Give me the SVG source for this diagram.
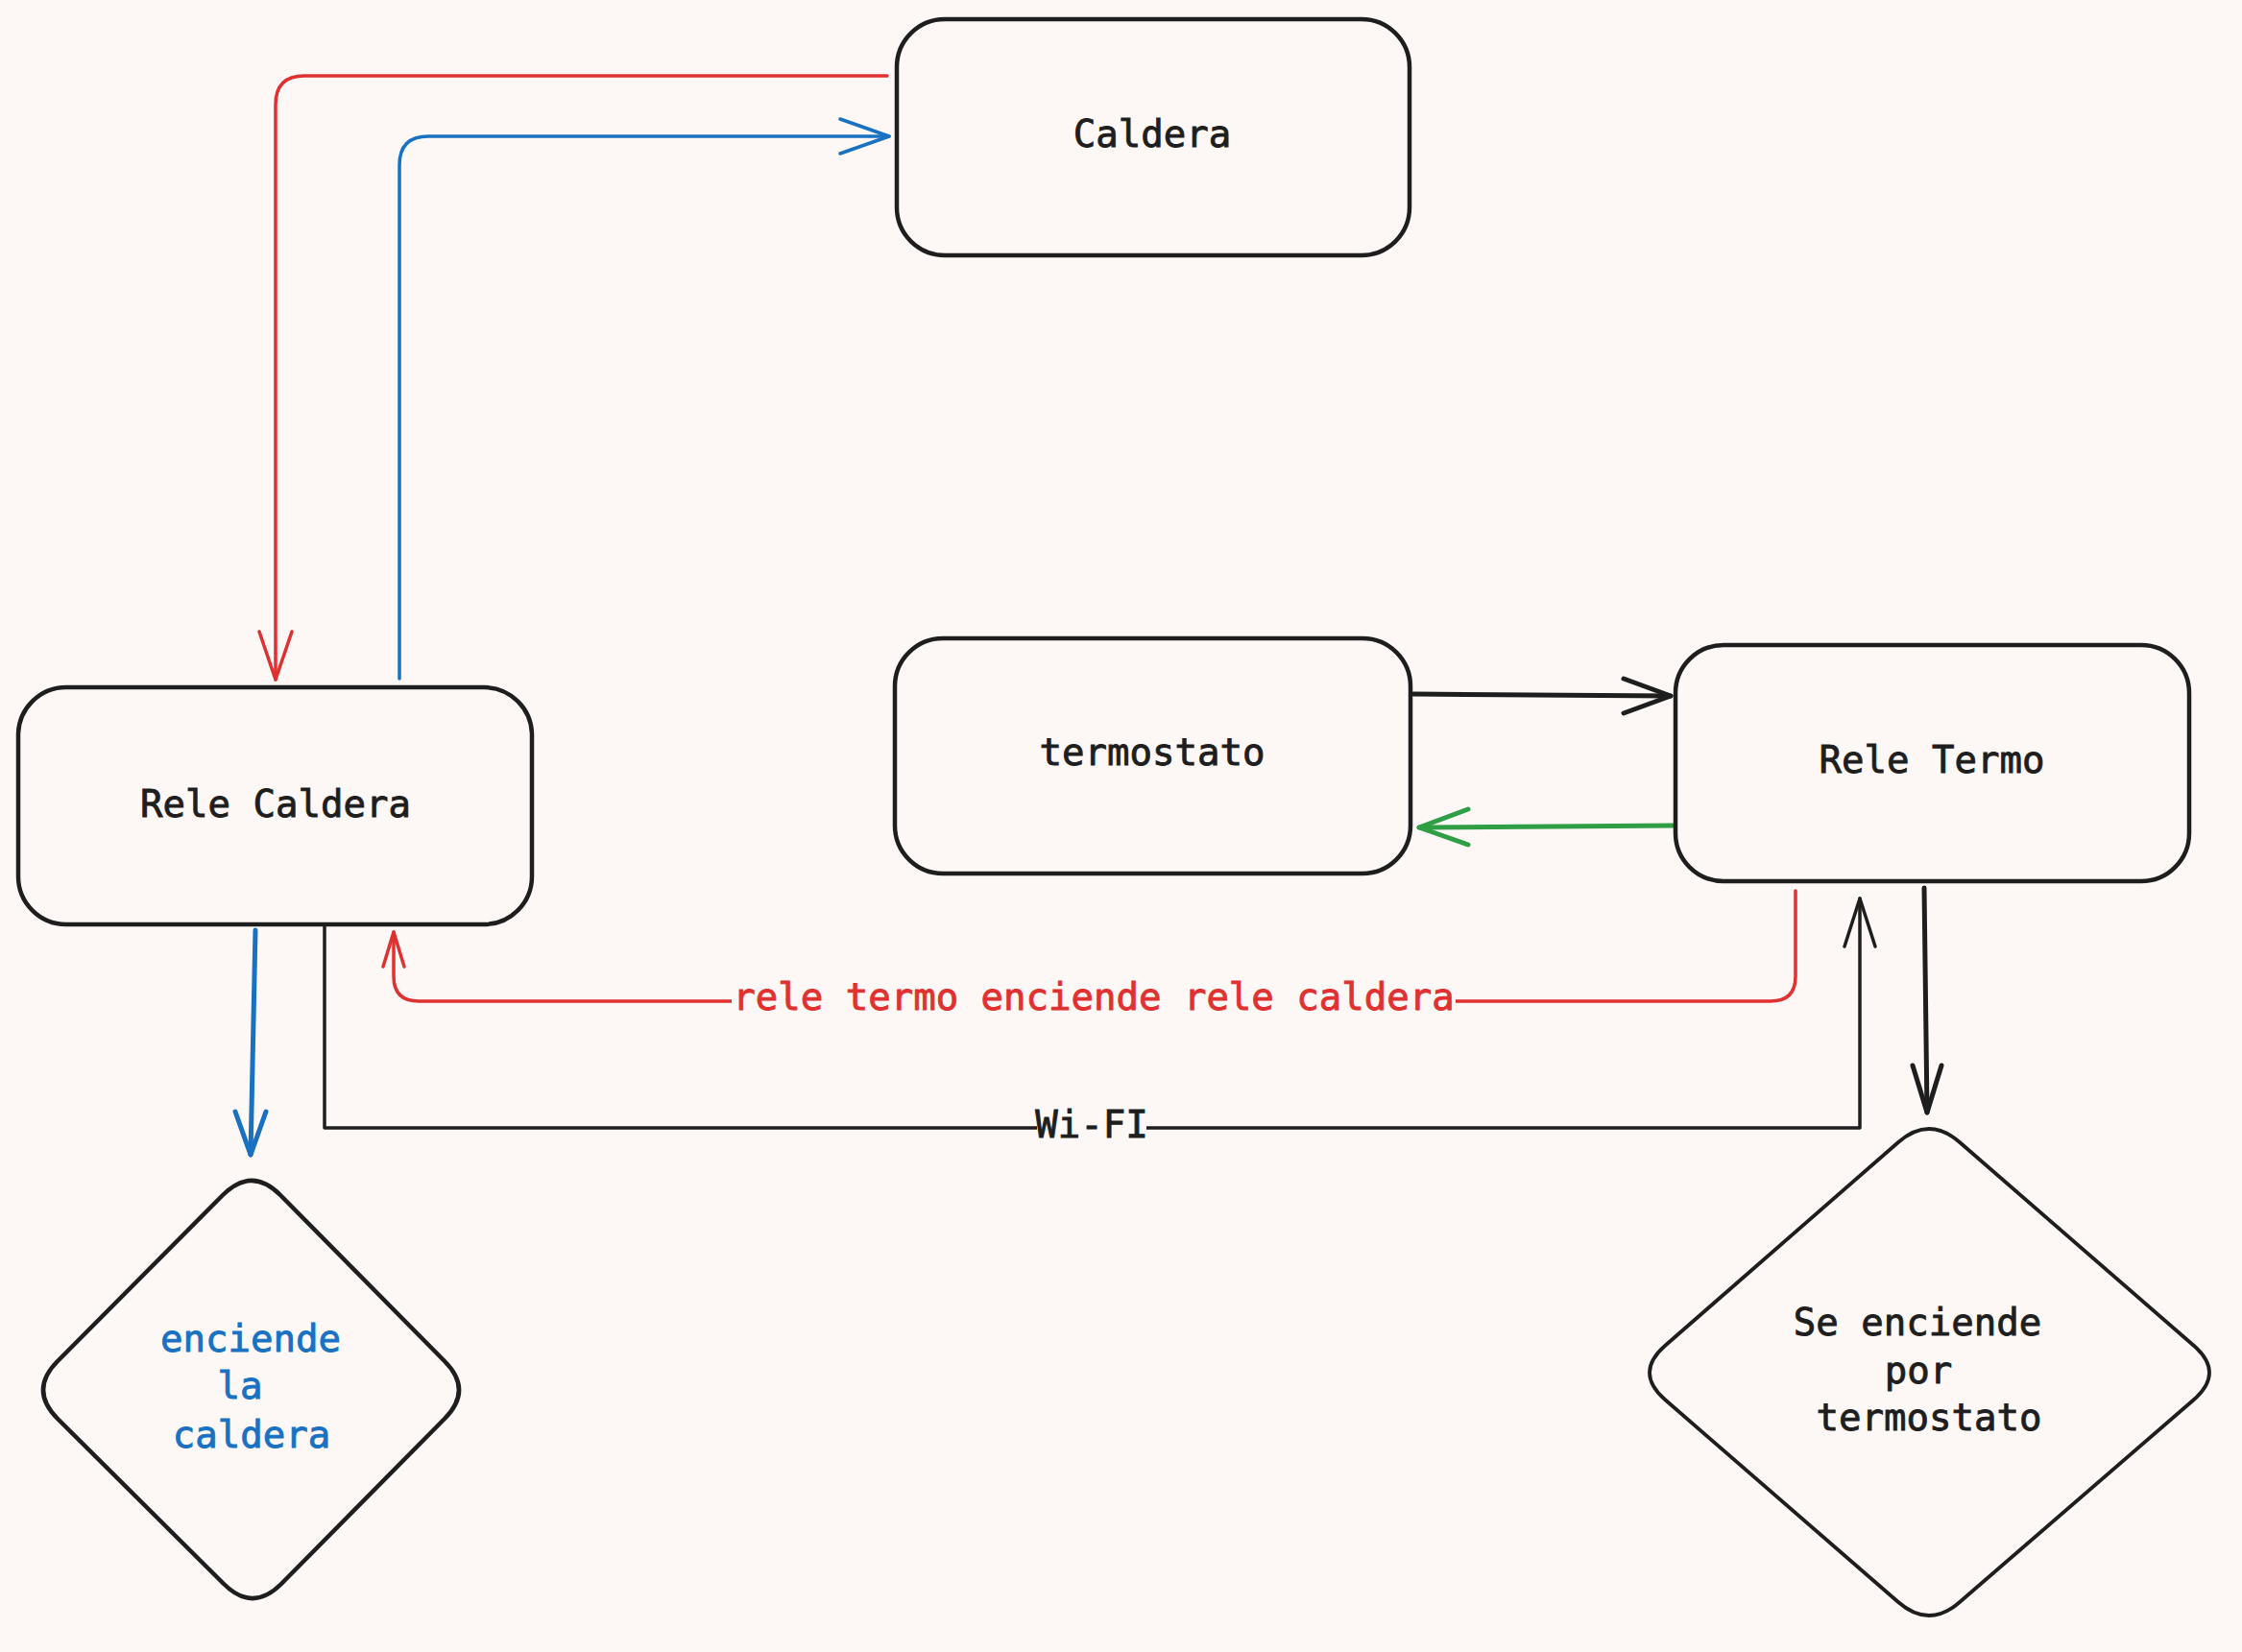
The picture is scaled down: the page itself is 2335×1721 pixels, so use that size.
<svg xmlns="http://www.w3.org/2000/svg" width="2335" height="1721" viewBox="0 0 2335 1721">
<style>
.bg{fill:#fdf8f6}
.box{fill:#fdf8f6;stroke:#1e1e1e;stroke-width:4.5}
.lbl{font-family:"DejaVu Sans Mono","Liberation Mono",monospace;font-size:39px;text-anchor:middle;fill:#1e1e1e;stroke:#1e1e1e;stroke-width:0.9}
.blue{fill:#1971c2;stroke:#1971c2}
.redt{fill:#e03131;stroke:#e03131}
.c{fill:none;stroke-linecap:round;stroke-linejoin:round}
.r{stroke:#e03131;stroke-width:3.5}
.b{stroke:#1971c2;stroke-width:3.5}
.k{stroke:#1e1e1e;stroke-width:3.5}
.g{stroke:#2f9e44;stroke-width:5}
.thick{stroke-width:5}
</style>
<rect class="bg" x="0" y="0" width="2335" height="1721"/>
<g id="connectors">
  <g id="c-caldera-relecaldera">
    <path class="c r" d="M924,79 H317 Q287,79 287,109 V708"/>
    <path class="c r" d="M270,658 L287,708 L304,658"/>
  </g>
  <g id="c-relecaldera-caldera">
    <path class="c b" d="M416,707 V172 Q416,142 446,142 H926"/>
    <path class="c b" d="M875,124 L926,142 L875,160"/>
  </g>
  <g id="c-termostato-reletermo">
    <path class="c k thick" d="M1472,723 L1740,725"/>
    <path class="c k thick" d="M1691,707 L1740,725 L1691,743"/>
  </g>
  <g id="c-reletermo-termostato">
    <path class="c g" d="M1745,860 L1478,862"/>
    <path class="c g" d="M1529,843 L1478,862 L1529,880"/>
  </g>
  <g id="c-reletermo-relecaldera">
    <path class="c r" d="M1870,928 V1017 Q1870,1043 1844,1043 H436 Q410,1043 410,1017 V971"/>
    <path class="c r" d="M399,1007 L410,971 L421,1007"/>
    <rect class="bg" x="762" y="1018" width="754" height="46"/>
    <text class="lbl redt" x="1139" y="1052">rele termo enciende rele caldera</text>
  </g>
  <g id="c-wifi">
    <path class="c k" d="M338,965 V1175 H1937 V936"/>
    <path class="c k" d="M1921,986 L1937,936 L1953,986"/>
    <rect class="bg" x="1080" y="1150" width="114" height="46"/>
    <text class="lbl" x="1137" y="1185">Wi-FI</text>
  </g>
  <g id="c-relecaldera-enciende">
    <path class="c b thick" d="M266,969 L261,1203"/>
    <path class="c b thick" d="M245,1158 L261,1203 L277,1158"/>
  </g>
  <g id="c-reletermo-seenciende">
    <path class="c k thick" d="M2004,925 L2007,1159"/>
    <path class="c k thick" d="M1992,1110 L2007,1159 L2022,1110"/>
  </g>
</g>
<g id="node-caldera">
  <rect class="box" x="934" y="20" width="534" height="246" rx="50"/>
  <text class="lbl" x="1200" y="153">Caldera</text>
</g>
<g id="node-rele-caldera">
  <rect class="box" x="19" y="716" width="535" height="247" rx="50"/>
  <text class="lbl" x="287" y="851">Rele Caldera</text>
</g>
<g id="node-termostato">
  <rect class="box" x="932" y="665" width="537" height="245" rx="50"/>
  <text class="lbl" x="1200" y="797">termostato</text>
</g>
<g id="node-rele-termo">
  <rect class="box" x="1745" y="672" width="535" height="246" rx="50"/>
  <text class="lbl" x="2012" y="805">Rele Termo</text>
</g>
<g id="node-enciende-caldera">
  <path class="box" d="M292,1245 L463,1418 Q493,1448 463,1478 L293,1650 Q263,1680 233,1650 L60,1478 Q30,1448 60,1418 L232,1245 Q262,1215 292,1245 Z"/>
  <text class="lbl blue" x="261" y="1408">enciende</text>
  <text class="lbl blue" x="250" y="1457">la</text>
  <text class="lbl blue" x="262" y="1508">caldera</text>
</g>
<g id="node-se-enciende">
  <path class="box" style="stroke-width:3.8" d="M2041,1190 L2285,1402 Q2317,1430 2285,1458 L2041,1669 Q2009,1697 1977,1669 L1734,1458 Q1702,1430 1734,1402 L1977,1190 Q2009,1162 2041,1190 Z"/>
  <text class="lbl" x="1997" y="1391">Se enciende</text>
  <text class="lbl" x="1998" y="1441">por</text>
  <text class="lbl" x="2009" y="1490">termostato</text>
</g>
</svg>
